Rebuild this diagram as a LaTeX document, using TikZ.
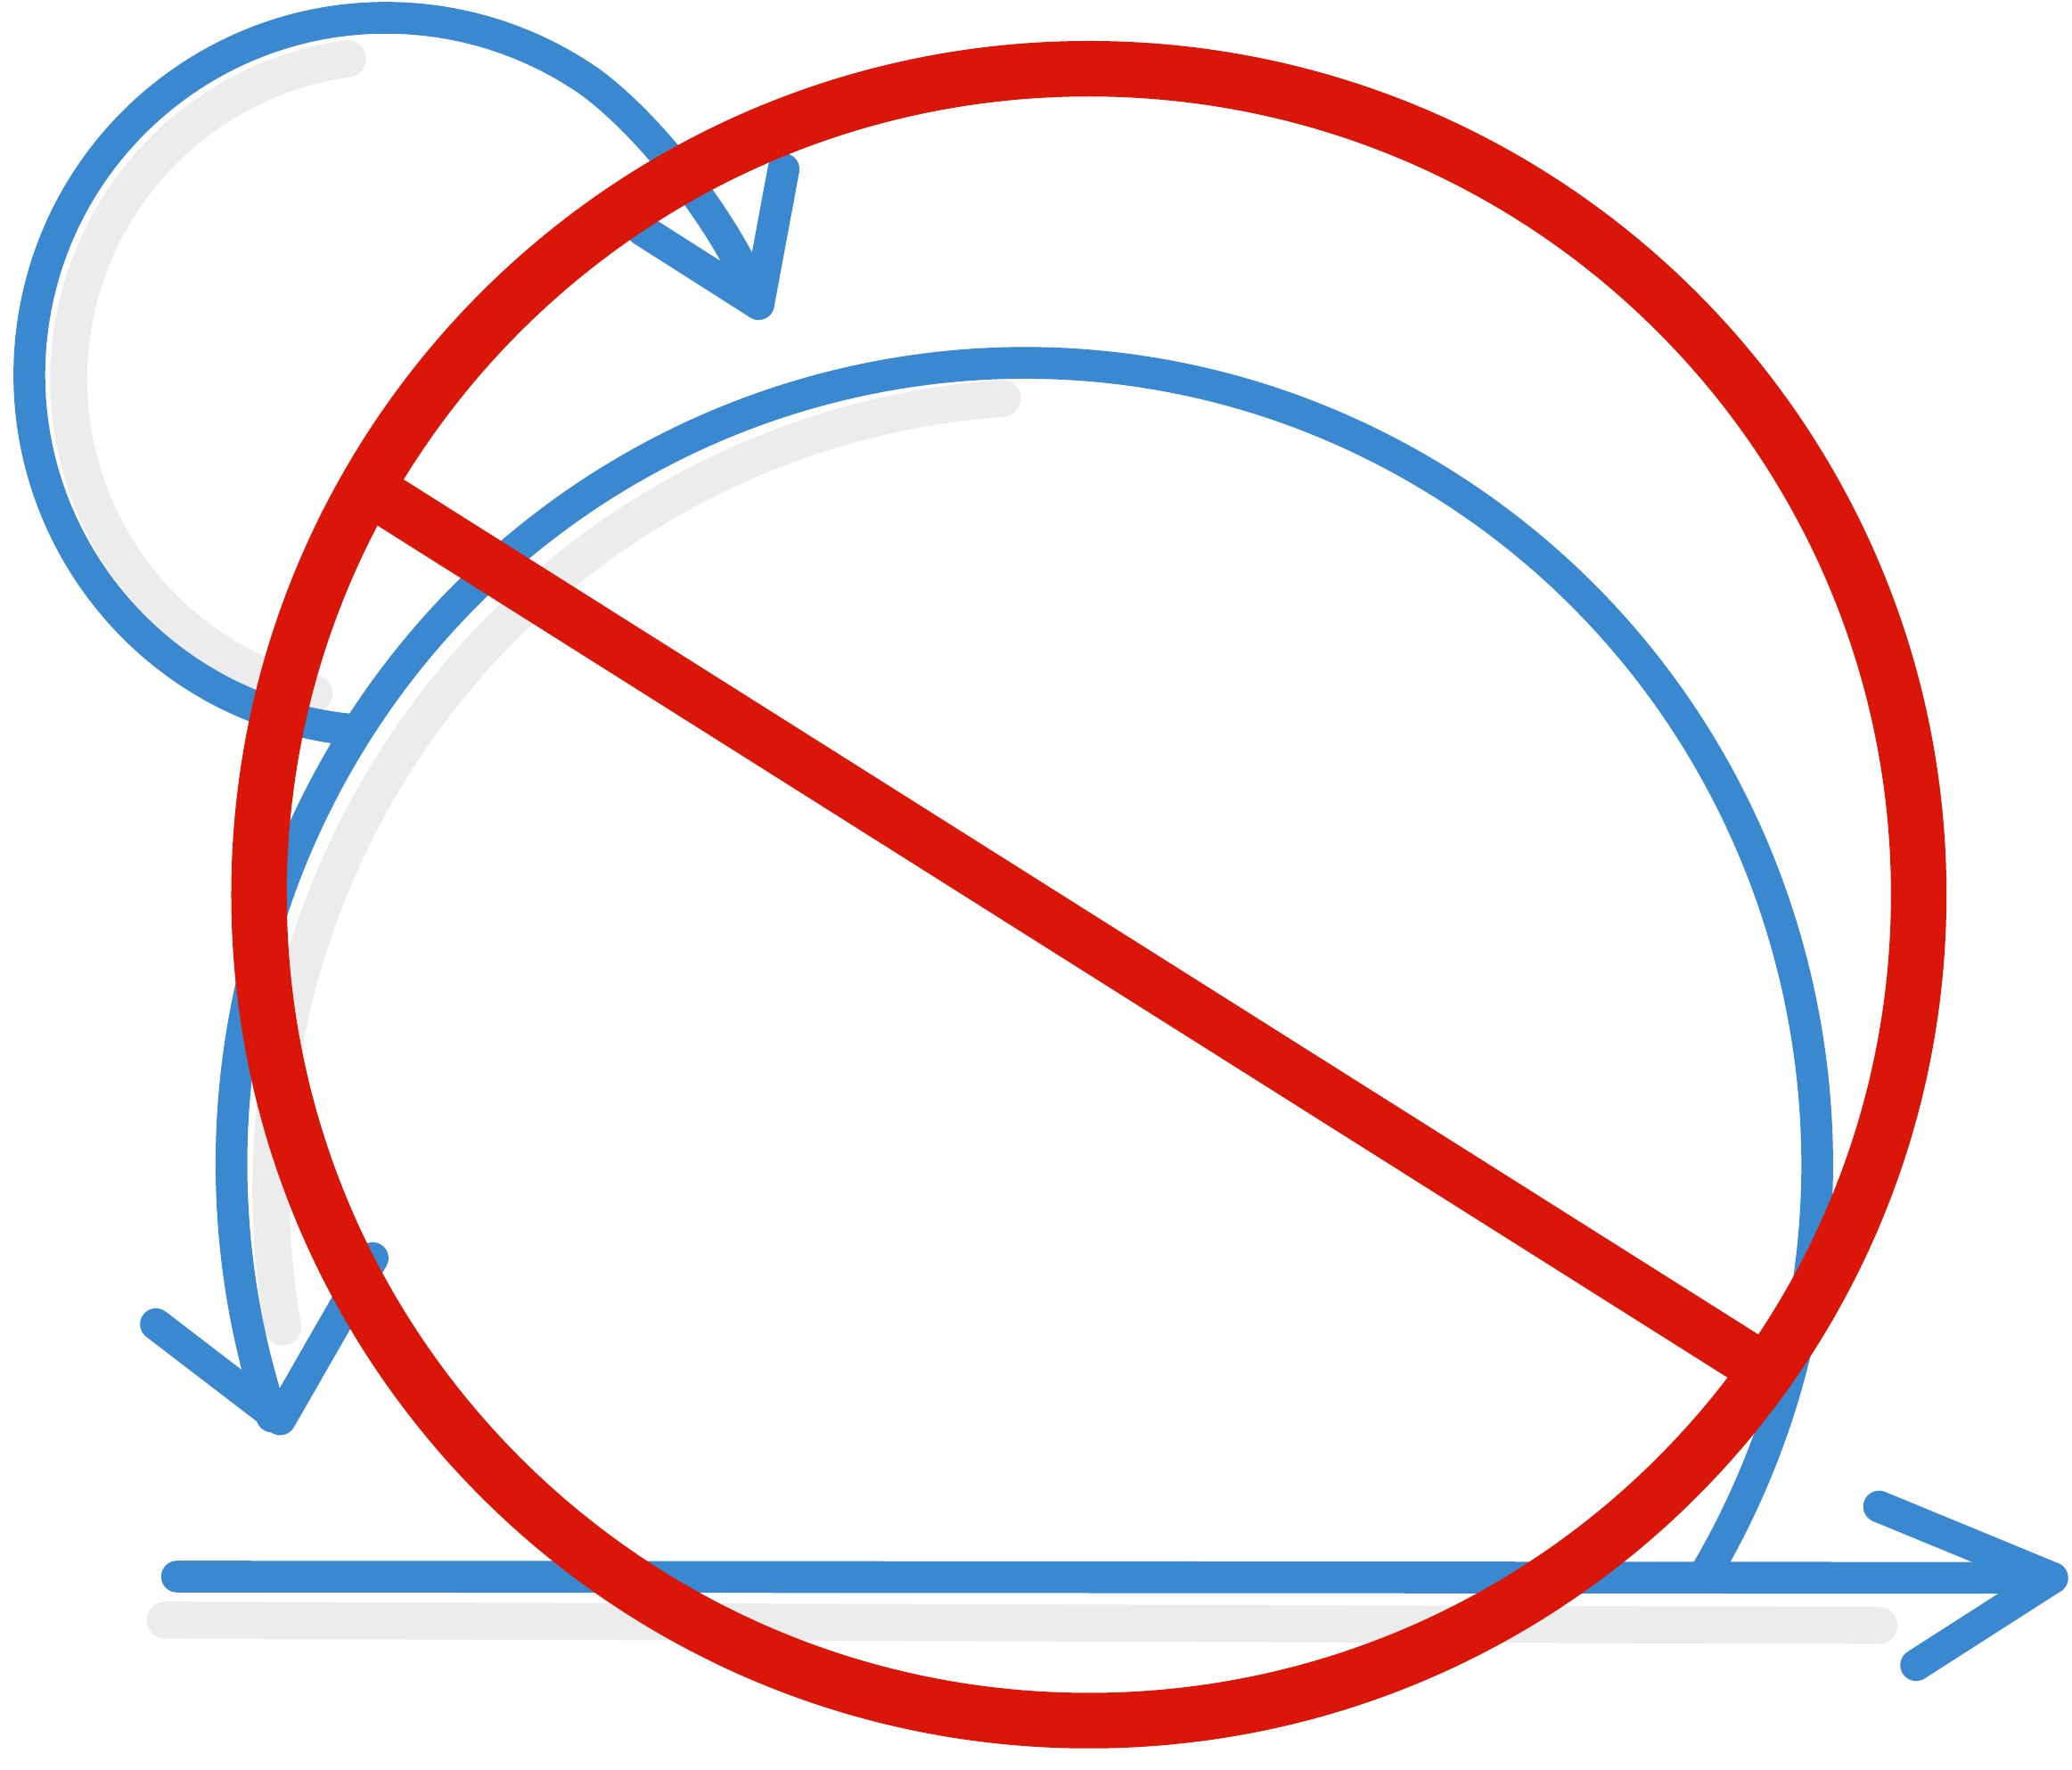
\documentclass[tikz,border=0pt]{standalone}
\definecolor{redc}{RGB}{218,22,8}
\definecolor{bluec}{RGB}{58,136,208}
\definecolor{shadowc}{RGB}{236,236,236}
\begin{document}
\begin{tikzpicture}[x=1pt,y=-1pt, line cap=round, line join=round,
  bluestroke/.style={draw=bluec, line width=24pt},
  redstroke/.style={draw=redc, line width=42pt},
  shadowstroke/.style={draw=shadowc, line width=28pt}]
\useasboundingbox[fill=white] (0,0) rectangle (1568,1339);

% shadows
\draw[shadowstroke] (297,287) ++(104:245) arc[start angle=104, end angle=262, radius=245];
\draw[shadowstroke] (800,900) ++(-94:595 and 600) arc[start angle=-94, end angle=-190, x radius=595, y radius=600];
\draw[shadowstroke] (125,1226) -- (1422,1230);

% blue top loop
\coordinate (loopstart) at (264,552);
\coordinate (tipA) at (574,230);
\draw[bluestroke] (loopstart) arc[start angle=96, end angle=305, radius=270]
  .. controls (494,97) and (552,172) .. (tipA);
\draw[bluestroke] (486,174) -- (tipA) -- (593,128);

% blue big arc
\coordinate (join) at (1291,1190);
\coordinate (tipB) at (212,1074);
\draw[bluestroke] (join) arc[start angle=30.7, end angle=-198.4, x radius=600, y radius=606];
\draw[bluestroke] (118,1002) -- (tipB) -- (282,952);

% blue horizontal arrow
\coordinate (hstart) at (134,1193);
\coordinate (tipC) at (1553,1194);
\draw[bluestroke] (hstart) -- (tipC);
\draw[bluestroke] (1422,1140) -- (tipC) -- (1450,1260);

% red prohibition sign
\draw[redstroke] (824,677) ellipse [x radius=628, y radius=625];
\draw[redc, line width=40pt, line cap=butt] (292,378) -- (1322,1028);
\end{tikzpicture}
\end{document}
